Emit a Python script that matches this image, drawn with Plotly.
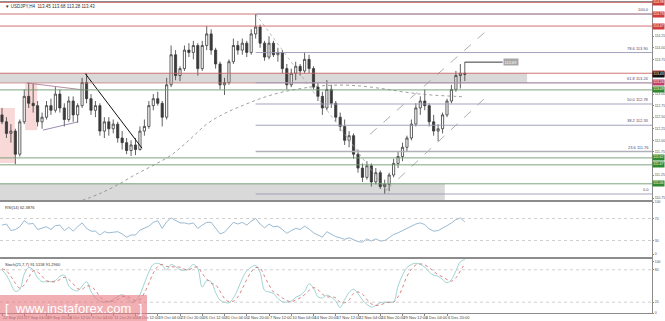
import plotly.graph_objects as go

# ---------------- data ----------------
date_labels = ["22 Sep 2017", "27 Sep 04:00", "29 Sep 20:00", "4 Oct 12:00", "9 Oct 04:00",
               "11 Oct 20:00", "16 Oct 12:00", "19 Oct 04:00", "23 Oct 20:00", "26 Oct 12:00",
               "31 Oct 04:00", "2 Nov 20:00", "7 Nov 12:00", "10 Nov 04:00", "14 Nov 20:00",
               "17 Nov 12:00", "22 Nov 04:00", "24 Nov 20:00", "29 Nov 12:00", "4 Dec 04:00",
               "6 Dec 20:00"]
label_bars = [0, 5, 10, 15, 20, 25, 30, 35, 40, 45, 50, 55, 60, 65, 70, 75, 80, 85, 90, 95, 100]

opens = [112.55, 112.40, 112.15, 112.20, 111.70, 112.40, 112.95, 112.80, 112.75, 112.40,
         112.50, 112.75, 112.65, 113.00, 112.70, 112.45, 112.85, 112.55, 112.75, 113.25,
         112.90, 112.65, 112.75, 112.20, 112.40, 112.25, 112.35, 112.05, 111.95, 111.78,
         111.90, 111.80, 112.20, 112.30, 112.75, 112.90, 112.80, 112.50, 113.20, 113.85,
         113.40, 113.55, 113.95, 113.90, 114.05, 113.55, 114.05, 114.30, 113.95, 113.65,
         113.20, 113.25, 113.70, 114.05, 113.95, 114.10, 113.90, 114.30, 114.45, 114.10,
         113.80, 114.10, 113.85, 113.90, 113.55, 113.20, 113.45, 113.60, 113.50, 113.75,
         113.55, 113.15, 112.95, 112.70, 113.10, 112.80, 112.50, 112.30, 112.00, 112.10,
         111.70, 111.40, 111.20, 111.45, 111.10, 111.30, 111.00, 111.05, 111.25, 111.50,
         111.65, 111.85, 112.05, 112.35, 112.70, 112.85, 112.75, 112.40, 112.20, 112.25,
         112.55, 112.85, 113.10, 113.40, 113.45]
highs = [112.70, 112.50, 112.35, 112.25, 112.45, 113.10, 113.25, 113.22, 112.85, 112.60,
         112.85, 112.90, 113.15, 113.10, 112.80, 112.95, 112.95, 112.80, 113.35, 113.45,
         113.00, 112.85, 112.80, 112.50, 112.50, 112.45, 112.40, 112.20, 112.05, 112.00,
         112.05, 112.30, 112.45, 112.85, 113.00, 113.05, 112.85, 113.35, 114.05, 113.95,
         113.60, 114.05, 114.10, 114.15, 114.10, 114.15, 114.47, 114.40, 114.00, 113.70,
         113.35, 113.75, 114.20, 114.15, 114.20, 114.15, 114.40, 114.73, 114.50, 114.15,
         114.25, 114.15, 114.00, 113.95, 113.65, 113.55, 113.70, 113.65, 113.90, 113.85,
         113.60, 113.25, 113.05, 113.30, 113.20, 112.85, 112.60, 112.45, 112.20, 112.15,
         111.80, 111.50, 111.55, 111.50, 111.40, 111.35, 111.15, 111.30, 111.60, 111.75,
         111.95, 112.10, 112.45, 112.80, 112.95, 113.10, 112.80, 112.55, 112.35, 112.60,
         112.90, 113.20, 113.50, 113.65, 113.69]
lows = [112.35, 112.05, 111.95, 111.48, 111.65, 112.35, 112.70, 112.60, 112.30, 112.25,
        112.45, 112.55, 112.60, 112.60, 112.30, 112.40, 112.40, 112.38, 112.70, 112.80,
        112.55, 112.50, 112.10, 112.05, 112.10, 112.15, 111.95, 111.80, 111.70, 111.66,
        111.68, 111.78, 112.10, 112.25, 112.65, 112.75, 112.30, 112.45, 113.15, 113.30,
        113.28, 113.50, 113.80, 113.75, 113.40, 113.50, 113.95, 113.85, 113.55, 113.10,
        112.98, 113.20, 113.65, 113.85, 113.85, 113.80, 113.85, 114.20, 114.00, 113.72,
        113.75, 113.80, 113.70, 113.45, 113.10, 113.15, 113.30, 113.40, 113.45, 113.45,
        113.10, 112.85, 112.55, 112.65, 112.70, 112.40, 112.20, 111.90, 111.85, 111.60,
        111.30, 111.10, 111.15, 111.00, 111.05, 110.95, 110.84, 110.90, 111.20, 111.40,
        111.55, 111.75, 112.00, 112.30, 112.55, 112.65, 112.30, 112.10, 111.98, 112.15,
        112.50, 112.80, 113.05, 113.12, 113.28]
closes = [112.40, 112.15, 112.20, 111.70, 112.40, 112.95, 112.80, 112.75, 112.40, 112.50,
          112.75, 112.65, 113.00, 112.70, 112.45, 112.85, 112.55, 112.75, 113.25, 112.90,
          112.65, 112.75, 112.20, 112.40, 112.25, 112.35, 112.05, 111.95, 111.78, 111.90,
          111.80, 112.20, 112.30, 112.75, 112.90, 112.80, 112.50, 113.20, 113.85, 113.40,
          113.55, 113.95, 113.90, 114.05, 113.55, 114.05, 114.30, 113.95, 113.65, 113.20,
          113.25, 113.70, 114.05, 113.95, 114.10, 113.90, 114.30, 114.45, 114.10, 113.80,
          114.10, 113.85, 113.90, 113.55, 113.20, 113.45, 113.60, 113.50, 113.75, 113.55,
          113.15, 112.95, 112.70, 113.10, 112.80, 112.50, 112.30, 112.00, 112.10, 111.70,
          111.40, 111.20, 111.45, 111.10, 111.30, 111.00, 111.05, 111.25, 111.50, 111.65,
          111.85, 112.05, 112.35, 112.70, 112.85, 112.75, 112.40, 112.20, 112.25, 112.55,
          112.85, 113.10, 113.40, 113.45, 113.43]

ma_bars = [18, 22, 26, 30, 34, 38, 42, 46, 50, 54, 58, 62, 66, 70, 74, 78, 82, 86, 90, 94, 98, 102, 104]
ma_vals = [110.70, 110.85, 111.04, 111.26, 111.46, 111.68, 112.00, 112.35, 112.58, 112.75, 112.90,
           113.02, 113.10, 113.16, 113.19, 113.19, 113.16, 113.11, 113.05, 113.00, 112.97, 112.95, 112.94]

rsi = [58, 60, 48, 50, 55, 66, 60, 61, 50, 52,
       55, 50, 57, 58, 48, 54, 47, 55, 62, 52,
       47, 47, 40, 46, 44, 45, 46, 42, 36, 40,
       40, 49, 52, 56, 63, 66, 52, 64, 71, 66,
       62, 62, 60, 62, 52, 58, 63, 63, 52, 42,
       45, 55, 63, 60, 63, 58, 65, 70, 60, 53,
       60, 55, 56, 50, 43, 48, 52, 50, 56, 51,
       44, 40, 36, 46, 42, 37, 35, 32, 35, 31,
       28, 27, 33, 29, 33, 29, 30, 35, 41, 44,
       48, 51, 55, 60, 62, 59, 51, 47, 48, 52,
       57, 62, 68, 71, 64]
stoch_k = [80, 70, 54, 40, 44, 72, 84, 80, 65, 58,
           58, 58, 60, 68, 70, 50, 43, 41, 50, 58,
           40, 28, 22, 20, 21, 25, 30, 34, 28, 20,
           22, 34, 55, 76, 90, 92, 88, 80, 90, 86,
           80, 79, 82, 90, 82, 48, 60, 58, 38, 24,
           20, 19, 28, 44, 64, 78, 85, 88, 75, 42,
           39, 36, 27, 21, 20, 22, 29, 33, 40, 54,
           46, 30, 28, 33, 29, 22, 10, 25, 38, 44,
           36, 24, 16, 11, 14, 19, 20, 20, 21, 50,
           70, 84, 90, 92, 90, 85, 76, 70, 68, 62,
           56, 62, 78, 95, 99]
stoch_d = [82, 78, 68, 55, 46, 52, 66, 78, 76, 68,
           60, 58, 58, 62, 66, 62, 54, 45, 44, 50,
           49, 42, 30, 23, 21, 22, 25, 30, 31, 27,
           23, 25, 37, 55, 74, 86, 90, 86, 86, 85,
           85, 81, 80, 84, 85, 73, 63, 55, 52, 40,
           27, 21, 22, 30, 45, 62, 76, 84, 83, 68,
           52, 39, 34, 28, 23, 21, 24, 28, 34, 42,
           47, 43, 35, 30, 30, 28, 20, 19, 24, 36,
           39, 35, 25, 17, 14, 15, 18, 20, 20, 30,
           47, 68, 81, 89, 91, 89, 84, 77, 71, 67,
           62, 59, 65, 78, 91]

red_levels = [114.98, 114.73, 114.47, 113.45]
green_levels = [113.09, 111.62, 111.47, 111.06]
fib_high, fib_low = 114.73, 110.84
fib_bar = 57
fib_low_bar = 87
fib_ratios = [0.0, 23.6, 38.2, 50.0, 61.8, 78.6, 100.0]
last_price = 113.43
marked_high = 113.69

upper_zone = [113.24, 113.45]
upper_zone_end = 118
lower_zone = [110.60, 111.06]
lower_zone_end = 99.5
pink_zones = [(-1, 2.9, 111.51, 112.70), (5.2, 7.9, 112.22, 113.24)]

down_trend = ([18.65, 31.46], [113.45, 111.83])
tri_upper = ([5.6, 18.2], [113.24, 113.09])
tri_lower = ([9.2, 17.1], [112.22, 112.40])
chan_upper = ([82.7, 109.0], [112.13, 114.38])
chan_lower = ([86.1, 108.5], [110.90, 112.91])

rsi_levels = [30, 70]
stoch_levels = [20, 80]
rsi_tick_pos = [5, 30, 70, 100]
rsi_tick_txt = ['0', '30', '70', '100']
stoch_tick_pos = [0, 20, 80, 95]
stoch_tick_txt = ['0', '20', '80', '100']

# ---------------- figure ----------------
W, H = 665, 321
ML, MR, MT, MB = 0, 13, 2, 8
PH = H - MT - MB
BAR_PX = 4.45
X0PX = 2.0
plot_w = W - ML - MR
XR = [(0 - X0PX) / BAR_PX, (plot_w - X0PX) / BAR_PX]


def ydom(top_px, bot_px):
    return [(H - MB - bot_px) / PH, (H - MB - top_px) / PH]


bars = list(range(len(closes)))
fig = go.Figure()

fig.add_trace(go.Candlestick(
    x=bars, open=opens, high=highs, low=lows, close=closes, xaxis='x3', yaxis='y',
    increasing=dict(line=dict(color='#3a3a3a', width=0.8), fillcolor='#ffffff'),
    decreasing=dict(line=dict(color='#3a3a3a', width=0.8), fillcolor='#3a3a3a'),
    whiskerwidth=0, hoverinfo='skip', showlegend=False))

fig.add_trace(go.Scatter(x=ma_bars, y=ma_vals, mode='lines', xaxis='x3', yaxis='y',
                         line=dict(color='#888888', width=0.8, dash='dot', shape='spline'),
                         hoverinfo='skip'))

for xs, ys, col, dash, w in [(down_trend[0], down_trend[1], '#111111', 'solid', 1.0),
                              (tri_upper[0], tri_upper[1], '#a07090', 'solid', 0.8),
                              (tri_lower[0], tri_lower[1], '#8070a0', 'solid', 0.8),
                              (chan_upper[0], chan_upper[1], '#999999', 'dash', 0.8),
                              (chan_lower[0], chan_lower[1], '#999999', 'dash', 0.8),
                              ([fib_bar, fib_low_bar], [fib_high, fib_low], '#aaaaaa', 'dot', 0.8),
                              ([bars[-1], bars[-1] + 8.5], [marked_high, marked_high], '#222222', 'solid', 0.9)]:
    fig.add_trace(go.Scatter(x=xs, y=ys, mode='lines', xaxis='x3', yaxis='y',
                             line=dict(color=col, width=w, dash=dash), hoverinfo='skip'))

fig.add_trace(go.Scatter(x=bars, y=rsi, mode='lines', xaxis='x2', yaxis='y2',
                         line=dict(color='#7fa8c6', width=0.8), hoverinfo='skip'))
fig.add_trace(go.Scatter(x=bars, y=stoch_k, mode='lines', xaxis='x', yaxis='y3',
                         line=dict(color='#86c9c9', width=0.8, shape='spline'), hoverinfo='skip'))
fig.add_trace(go.Scatter(x=bars, y=stoch_d, mode='lines', xaxis='x', yaxis='y3',
                         line=dict(color='#d06060', width=0.8, dash='dot', shape='spline'), hoverinfo='skip'))

shapes = []
shapes.append(dict(type='rect', xref='x3', yref='y', x0=XR[0], x1=upper_zone_end,
                   y0=upper_zone[0], y1=upper_zone[1], fillcolor='#d9d9d9', line_width=0, layer='below'))
shapes.append(dict(type='rect', xref='x3', yref='y', x0=XR[0], x1=lower_zone_end,
                   y0=lower_zone[0], y1=lower_zone[1], fillcolor='#d9d9d9', line_width=0, layer='below'))
for x0, x1, y0, y1 in pink_zones:
    shapes.append(dict(type='rect', xref='x3', yref='y', x0=x0, x1=x1, y0=y0, y1=y1,
                       fillcolor='rgba(245,190,190,0.6)', line_width=0, layer='below'))
for lv in red_levels:
    shapes.append(dict(type='line', xref='x3 domain', yref='y', x0=0, x1=1, y0=lv, y1=lv,
                       line=dict(color='#c86464', width=0.9)))
for lv in green_levels:
    shapes.append(dict(type='line', xref='x3 domain', yref='y', x0=0, x1=1, y0=lv, y1=lv,
                       line=dict(color='#6f9a6f', width=0.9)))
shapes.append(dict(type='line', xref='x3 domain', yref='y', x0=0, x1=1, y0=upper_zone[0], y1=upper_zone[0],
                   line=dict(color='#c88080', width=0.8)))
fib_levels = [fib_low + r / 100 * (fib_high - fib_low) for r in fib_ratios]
for r, lv in zip(fib_ratios, fib_levels):
    shapes.append(dict(type='line', xref='x3', yref='y', x0=fib_bar, x1=XR[1], y0=lv, y1=lv,
                       line=dict(color='#9a9ab8' if r != 23.6 else '#b0b0b8', width=0.9 if r != 23.6 else 1.6)))
for lv in rsi_levels:
    shapes.append(dict(type='line', xref='x2 domain', yref='y2', x0=0, x1=1, y0=lv, y1=lv,
                       line=dict(color='#bbbbbb', width=0.7, dash='dot')))
for lv in stoch_levels:
    shapes.append(dict(type='line', xref='x domain', yref='y3', x0=0, x1=1, y0=lv, y1=lv,
                       line=dict(color='#bbbbbb', width=0.7, dash='dot')))
shapes.append(dict(type='rect', xref='paper', yref='paper', x0=0, x1=147 / plot_w,
                   y0=(H - MB - 321) / PH, y1=(H - MB - 295) / PH,
                   fillcolor='rgba(232,120,128,0.6)', line_width=0))

ann = []
ann.append(dict(text='▼ USDJPY,H4  113.45 113.68 113.28 113.43', xref='paper', yref='paper',
                x=0.004, y=1, xanchor='left', yanchor='top', showarrow=False,
                font=dict(size=4.5, color='#333333')))
for r, lv in zip(fib_ratios, fib_levels):
    t = f'{r:.1f}' if r in (0.0, 100.0) else f'{r:.1f} {lv:.2f}'
    ann.append(dict(text=t, xref='x3 domain', yref='y', x=0.998, y=lv, xanchor='right', yanchor='bottom',
                    showarrow=False, font=dict(size=4, color='#4a4a78')))

tag_prices = []


def tag(price, bg, fg='white'):
    tag_prices.append(price)
    ann.append(dict(text=f'{price:.2f}', xref='x3 domain', yref='y', x=1.0, y=price, xanchor='left',
                    yanchor='middle', showarrow=False, bgcolor=bg, borderpad=0.3,
                    font=dict(size=3.5, color=fg)))


for lv in red_levels:
    tag(lv, '#d23c3c')
tag(upper_zone[0], '#c0406a')
for lv in green_levels:
    tag(lv, '#2f8a2f')
tag(last_price, '#111111')
ann.append(dict(text=f'{marked_high:.2f}', xref='x3', yref='y', x=bars[-1] + 8.6, y=marked_high,
                xanchor='left', yanchor='middle', showarrow=False, bgcolor='#a8a8a8', borderpad=0.5,
                font=dict(size=4, color='white')))
ann.append(dict(text='RSI(14) 62.3876', xref='x2 domain', yref='y2 domain', x=0.004, y=0.98,
                xanchor='left', yanchor='top', showarrow=False, font=dict(size=4, color='#333333')))
ann.append(dict(text='Stoch(21,7,7) 91.5158 91.2960', xref='x domain', yref='y3 domain', x=0.004, y=0.98,
                xanchor='left', yanchor='top', showarrow=False, font=dict(size=4, color='#333333')))
ann.append(dict(text='[  www.instaforex.com  ]', xref='paper', yref='paper', x=73 / plot_w,
                y=(H - MB - 308) / PH, xanchor='center', yanchor='middle', showarrow=False,
                font=dict(size=13, color='white', family='Liberation Sans')))

axis_common = dict(showline=True, linecolor='#8c8c8c', linewidth=1, mirror=True, showgrid=False,
                   zeroline=False, automargin=False)
ytick_font = dict(size=3.5, color='#555555')
price_ticks = [110.75 + 0.25 * k for k in range(17)]
price_ticks = [p for p in price_ticks if all(abs(p - t) > 0.09 for t in tag_prices)]

fig.update_layout(
    width=W, height=H, margin=dict(l=ML, r=MR, t=MT, b=MB, autoexpand=False),
    paper_bgcolor='white', plot_bgcolor='white', showlegend=False,
    font=dict(family='Liberation Sans'),
    shapes=shapes, annotations=ann,
    xaxis=dict(domain=[0, 1], anchor='y3', range=XR, tickvals=label_bars, ticktext=date_labels,
               tickangle=0, ticklabelposition='outside right', tickfont=dict(size=4, color='#444444'),
               ticks='outside', ticklen=2, tickcolor='#888888', rangeslider=dict(visible=False),
               **axis_common),
    xaxis2=dict(domain=[0, 1], anchor='y2', matches='x', showticklabels=False, ticks='',
                rangeslider=dict(visible=False), **axis_common),
    xaxis3=dict(domain=[0, 1], anchor='y', matches='x', showticklabels=False, ticks='',
                rangeslider=dict(visible=False), **axis_common),
    yaxis=dict(domain=ydom(2, 200), side='right', range=[110.71, 114.99], tickvals=price_ticks,
               tickformat='.2f', tickfont=ytick_font, ticks='outside', ticklen=1, tickcolor='#888888',
               **axis_common),
    yaxis2=dict(domain=ydom(202, 257), side='right', range=[0, 100], tickvals=rsi_tick_pos,
                ticktext=rsi_tick_txt, tickfont=ytick_font, ticks='outside', ticklen=1,
                tickcolor='#888888', **axis_common),
    yaxis3=dict(domain=ydom(259, 313), side='right', range=[0, 100], tickvals=stoch_tick_pos,
                ticktext=stoch_tick_txt, tickfont=ytick_font, ticks='outside', ticklen=1,
                tickcolor='#888888', **axis_common),
)

fig.write_html('out.html')
